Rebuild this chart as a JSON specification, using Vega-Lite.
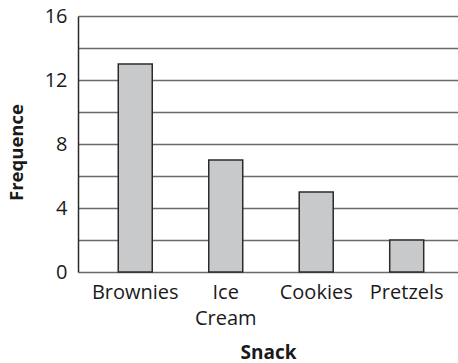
{
  "$schema": "https://vega.github.io/schema/vega-lite/v6.json",
  "width": 380,
  "height": 256,
  "autosize": {"type": "none"},
  "padding": {"left": 78, "top": 16, "right": 0, "bottom": 91},
  "background": "white",
  "data": {
    "values": [
      {"snack": "Brownies", "freq": 13},
      {"snack": "Ice Cream", "freq": 7},
      {"snack": "Cookies", "freq": 5},
      {"snack": "Pretzels", "freq": 2}
    ]
  },
  "mark": {"type": "bar", "fill": "#c8c9cb", "stroke": "#2b2b2b", "strokeWidth": 1.5},
  "encoding": {
    "x": {
      "field": "snack",
      "type": "nominal",
      "sort": null,
      "scale": {"paddingInner": 0.6243, "paddingOuter": 0.412, "align": 0.54, "round": false},
      "axis": {
        "title": "Snack",
        "labelAngle": 0,
        "labelFont": "Open Sans",
        "labelFontSize": 20,
        "labelColor": "#1a1a1a",
        "labelPadding": 10,
        "labelLineHeight": 26,
        "labelExpr": "datum.label == 'Ice Cream' ? ['Ice', 'Cream'] : datum.label",
        "ticks": false,
        "domain": false,
        "titleFont": "Open Sans",
        "titleFontSize": 19,
        "titleFontWeight": "bold",
        "titleColor": "#1a1a1a",
        "titleBaseline": "alphabetic",
        "titleY": 86,
        "titleX": 190
      }
    },
    "y": {
      "field": "freq",
      "type": "quantitative",
      "scale": {"domain": [0, 16], "nice": false},
      "axis": {
        "title": "Frequence",
        "values": [0, 2, 4, 6, 8, 10, 12, 14, 16],
        "labelExpr": "datum.value % 4 == 0 ? datum.label : ''",
        "labelFont": "Open Sans",
        "labelFontSize": 20,
        "labelColor": "#1a1a1a",
        "labelPadding": 11,
        "ticks": false,
        "domain": true,
        "domainColor": "#2b2b2b",
        "domainWidth": 1.5,
        "grid": true,
        "gridColor": "#6a6a6a",
        "gridWidth": 1.5,
        "gridOpacity": 1,
        "titleFont": "Open Sans",
        "titleFontSize": 18.5,
        "titleFontWeight": "bold",
        "titleColor": "#1a1a1a",
        "titleBaseline": "alphabetic",
        "titleAngle": -90,
        "titleX": -56,
        "titleY": 136
      }
    }
  },
  "config": {"view": {"stroke": null}}
}
